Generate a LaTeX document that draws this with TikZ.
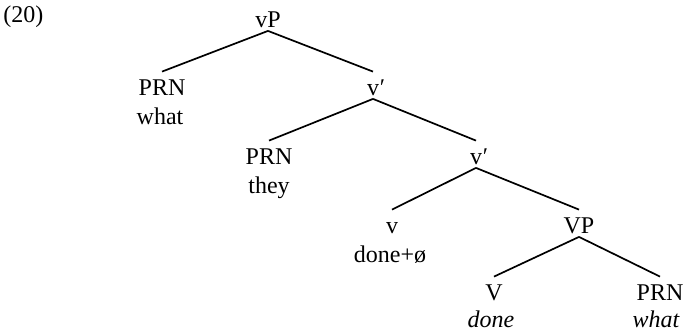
\documentclass[tikz,border=0pt]{standalone}
\usepackage{fontspec}
\setmainfont{Liberation Serif}
\begin{document}
\begin{tikzpicture}[x=1pt, y=1pt,
    cat/.style={inner sep=0pt, anchor=base, text height=11.5pt, text depth=1.75pt,
                font=\fontsize{12pt}{14pt}\selectfont},
    wrd/.style={inner sep=0pt, anchor=base, font=\fontsize{12pt}{14pt}\selectfont},
    br/.style={line width=0.85pt}]
    \useasboundingbox (0,0) rectangle (342,-166.5);
    \node[wrd, anchor=base west] (ex) at (1.5,-11) {(20)};
    % categories
    \node[cat] (vP)    at (134,-13.5)   {vP};
    \node[cat] (prnA)  at (81,-47.5)    {PRN};
    \node[cat] (vbarA) at (186.5,-47.5) {v\rlap{\kern0.5pt′}};
    \node[cat] (prnB)  at (134.5,-82)   {PRN};
    \node[cat] (vbarB) at (238,-82)     {v\rlap{\kern0.5pt′}};
    \node[cat] (vhead) at (196,-116.5)  {v};
    \node[cat] (VP)    at (289.5,-116.5){VP};
    \node[cat] (Vhead) at (247,-150)    {V};
    \node[cat] (prnC)  at (330,-150)    {PRN};
    % words
    \node[wrd] (wA) at (80,-62)      {what};
    \node[wrd] (wB) at (134.5,-96.5) {they};
    \node[wrd] (wC) at (195,-131)    {done+ø};
    \node[wrd] (wD) at (245.5,-163.8){\itshape done};
    \node[wrd] (wE) at (328,-163.8)  {\itshape what};
    % branches
    \draw[br] (vP.south) -- (prnA.north);
    \draw[br] (vP.south) -- (vbarA.north);
    \draw[br] (vbarA.south) -- (prnB.north);
    \draw[br] (vbarA.south) -- (vbarB.north);
    \draw[br] (vbarB.south) -- (vhead.north);
    \draw[br] (vbarB.south) -- (VP.north);
    \draw[br] (VP.south) -- (Vhead.north);
    \draw[br] (VP.south) -- (prnC.north);
\end{tikzpicture}
\end{document}
